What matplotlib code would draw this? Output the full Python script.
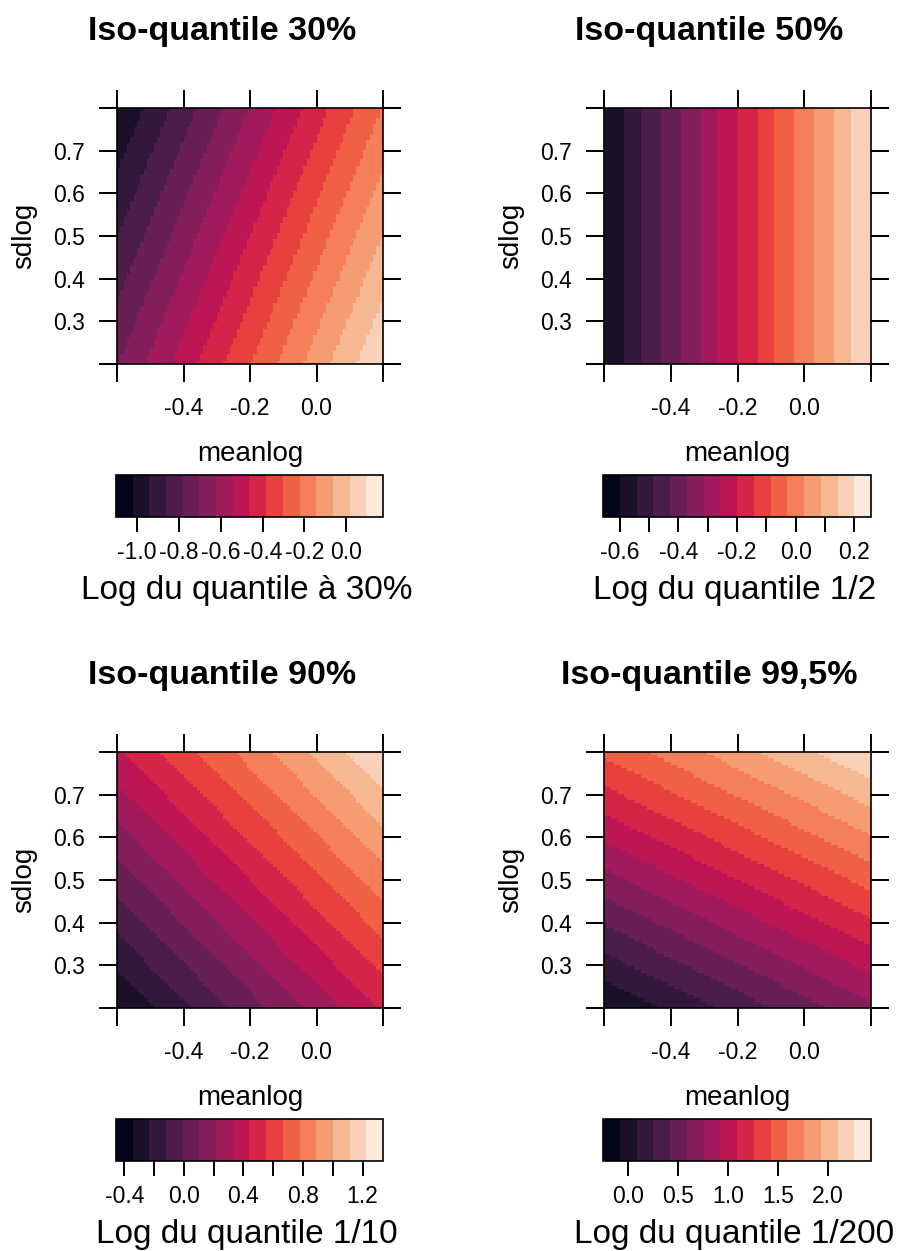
import numpy as np
import matplotlib
matplotlib.use("Agg")
import matplotlib.pyplot as plt
from matplotlib.colors import ListedColormap, BoundaryNorm
import seaborn as sns  # registers the "rocket" colormap

plt.rcParams["font.family"] = ["Liberation Sans", "DejaVu Sans"]

# grid of lognormal parameters
meanlog_edges = np.linspace(-0.6, 0.2, 81)
sdlog_edges = np.linspace(0.2, 0.8, 81)

# standard normal quantiles for 30%, 50%, 90%, 99.5%
quantile_z = [-0.5244, 0.0, 1.2816, 2.5758]

titles = ["Iso-quantile 30%", "Iso-quantile 50%", "Iso-quantile 90%", "Iso-quantile 99,5%"]
cb_labels = ["Log du quantile à 30%", "Log du quantile 1/2",
             "Log du quantile 1/10", "Log du quantile 1/200"]

cb_ticks = [
    [-1.0, -0.8, -0.6, -0.4, -0.2, 0.0],
    [-0.6, -0.5, -0.4, -0.3, -0.2, -0.1, 0.0, 0.1, 0.2],
    [-0.4, -0.2, 0.0, 0.2, 0.4, 0.6, 0.8, 1.0, 1.2],
    [0.0, 0.5, 1.0, 1.5, 2.0],
]
cb_ticklabels = [
    ["-1.0", "-0.8", "-0.6", "-0.4", "-0.2", "0.0"],
    ["-0.6", "", "-0.4", "", "-0.2", "", "0.0", "", "0.2"],
    ["-0.4", "", "0.0", "", "0.4", "", "0.8", "", "1.2"],
    ["0.0", "0.5", "1.0", "1.5", "2.0"],
]

x_ticks = [-0.6, -0.4, -0.2, 0.0, 0.2]
x_ticklabels = ["", "-0.4", "-0.2", "0.0", ""]
y_ticks = [0.2, 0.3, 0.4, 0.5, 0.6, 0.7, 0.8]
y_ticklabels = ["", "0.3", "0.4", "0.5", "0.6", "0.7", ""]

n_colors = 16
cmap = ListedColormap(matplotlib.colormaps["rocket"](np.linspace(0, 1, n_colors)))

W, H = 901, 1251
col_x = [117, 604]
panel_w = [266, 267]
row_y = [108, 752]
panel_h = 256


def rect(x, y, w, h):
    return [x / W, 1 - (y + h) / H, w / W, h / H]


fig = plt.figure(figsize=(W / 100, H / 100), dpi=100)
fig.patch.set_facecolor("white")

mc = 0.5 * (meanlog_edges[:-1] + meanlog_edges[1:])
sc = 0.5 * (sdlog_edges[:-1] + sdlog_edges[1:])
M, S = np.meshgrid(mc, sc)
ME, SE = np.meshgrid(meanlog_edges, sdlog_edges)

for i, z in enumerate(quantile_z):
    r, c = divmod(i, 2)
    x0, w = col_x[c], panel_w[c]
    y0 = row_y[r]
    cx = x0 + w / 2

    Q = M + S * z
    corners = ME + SE * z
    qmin, qmax = corners.min(), corners.max()
    d = (qmax - qmin) / (n_colors - 2)
    levels = np.linspace(qmin - d, qmax + d, n_colors + 1)
    norm = BoundaryNorm(levels, n_colors)

    ax = fig.add_axes(rect(x0, y0, w, panel_h))
    mesh = ax.pcolormesh(meanlog_edges, sdlog_edges, Q, cmap=cmap, norm=norm)
    ax.set_xlim(-0.6, 0.2)
    ax.set_ylim(0.2, 0.8)
    ax.set_xticks(x_ticks)
    ax.set_xticklabels(x_ticklabels)
    ax.set_yticks(y_ticks)
    ax.set_yticklabels(y_ticklabels)
    ax.tick_params(direction="out", length=13, width=1.4, labelsize=16.5,
                   top=True, right=True, pad=10, colors="black")
    ax.tick_params(axis="x", pad=11)
    for sp in ax.spines.values():
        sp.set_linewidth(1.2)

    cax = fig.add_axes(rect(x0 - 1, y0 + 367, w + 1, 42))
    cb = fig.colorbar(mesh, cax=cax, orientation="horizontal", ticks=cb_ticks[i])
    cb.ax.set_xticklabels(cb_ticklabels[i])
    cb.ax.minorticks_off()
    cb.outline.set_linewidth(1.2)
    cax.tick_params(direction="out", length=11, width=1.4, labelsize=16.5, pad=6)

    fig.text((cx - 28) / W, 1 - (y0 - 68) / H, titles[i], fontsize=24.5,
             fontweight="bold", ha="center", va="baseline")
    fig.text(cx / W, 1 - (y0 + 353) / H, "meanlog", fontsize=20,
             ha="center", va="baseline")
    fig.text((x0 - 93) / W, 1 - (y0 + panel_h / 2) / H, "sdlog", fontsize=20,
             rotation=90, ha="center", va="center")
    fig.text((cx - 3) / W, 1 - (y0 + 491) / H, cb_labels[i], fontsize=24,
             ha="center", va="baseline")

fig.savefig("out.png", dpi=100, facecolor="white")
